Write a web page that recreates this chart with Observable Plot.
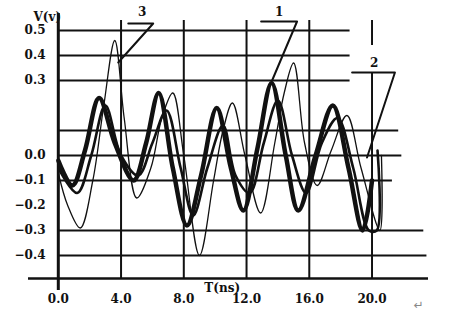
<!DOCTYPE html>
<html>
<head>
<meta charset="utf-8">
<script src="https://cdn.jsdelivr.net/npm/d3@7"></script>
<script src="https://cdn.jsdelivr.net/npm/@observablehq/plot@0.6"></script>
<style>
  html, body { margin: 0; padding: 0; background: #fff; }
  #chart { width: 450px; height: 320px; }
</style>
</head>
<body>
<div id="chart"></div>
<script>
// ---- data ----
const t1 = [0, 0.9, 1.7, 2.6, 3.6, 4.8, 5.6, 6.4, 7.3, 8.2, 9.1, 10.1, 11.0, 11.8, 12.7, 13.6, 14.5, 15.3, 16.4, 17.5, 18.5, 19.4, 20.0];
const v1 = [-0.02, -0.12, 0.02, 0.23, 0.05, -0.1, 0.05, 0.25, -0.05, -0.28, -0.08, 0.19, -0.05, -0.22, 0.03, 0.29, 0.0, -0.22, 0.0, 0.2, -0.05, -0.3, -0.1];

const t2 = [0, 1.2, 2.1, 3.0, 4.0, 5.1, 6.0, 6.9, 7.8, 8.6, 9.5, 10.5, 11.3, 12.2, 13.1, 14.0, 14.9, 15.8, 16.8, 17.8, 18.8, 19.8, 20.3, 20.35];
const v2 = [-0.05, -0.15, 0.0, 0.2, 0.0, -0.08, 0.05, 0.18, -0.05, -0.24, -0.05, 0.12, -0.08, -0.15, 0.05, 0.22, 0.0, -0.15, 0.05, 0.15, -0.05, -0.3, -0.3, 0.02];

const t3 = [0, 0.6, 1.4, 2.2, 2.9, 3.6, 4.2, 5.0, 5.9, 6.6, 7.3, 8.0, 9.0, 9.9, 10.5, 11.1, 11.9, 12.9, 13.8, 14.4, 15.0, 15.7, 16.5, 17.4, 18.4, 19.3, 20.5, 20.6];
const v3 = [-0.07, -0.2, -0.29, -0.1, 0.2, 0.46, 0.15, -0.17, -0.05, 0.15, 0.25, 0.0, -0.40, -0.1, 0.1, 0.21, 0.0, -0.23, 0.05, 0.25, 0.37, 0.05, -0.12, 0.02, 0.16, -0.05, -0.3, 0.0];

const xTicks = [0, 4, 8, 12, 16, 20];
const yTicks = [0.5, 0.4, 0.3, 0.0, -0.1, -0.2, -0.3, -0.4];
const hGrid = [0.5, 0.4, 0.3, 0.1, 0.0, -0.1, -0.3, -0.4];
const hGridEnd = [18.6, 18.6, 18.6, 21.7, 21.9, 21.3, 23.3, 23.5];
const vGrid = [4, 8, 12, 16];

// leader annotations (data units)
const leaderLabels = ["1", "2", "3"];
const leader1 = [{t: 12.93, v: 0.536}, {t: 15.22, v: 0.536}, {t: 13.63, v: 0.30}];
const leader2 = [{t: 18.73, v: 0.332}, {t: 21.46, v: 0.332}, {t: 19.68, v: -0.008}];
const leader3 = [{t: 4.46, v: 0.528}, {t: 6.05, v: 0.528}, {t: 3.82, v: 0.372}];
const labelPos = [{t: 14.08, v: 0.572}, {t: 20.13, v: 0.37}, {t: 5.35, v: 0.572}];

// ---- build ----
const s1 = t1.map((t, i) => ({t, v: v1[i]}));
const s2 = t2.map((t, i) => ({t, v: v2[i]}));
const s3 = t3.map((t, i) => ({t, v: v3[i]}));
const xMin = -1.9, xMax = 23.6, yMin = -0.492, yMax = 0.568;
const fmt = d => (d < 0 ? "\u2212" : "") + Math.abs(d).toFixed(1);
const ink = "#111";

const chart = Plot.plot({
  width: 450,
  height: 320,
  marginLeft: 28,
  marginRight: 22,
  marginTop: 13,
  marginBottom: 42,
  x: {domain: [xMin, xMax], axis: null},
  y: {domain: [yMin, yMax], axis: null},
  style: {background: "#fff", fontFamily: "DejaVu Serif", color: ink},
  marks: [
    // grid
    Plot.ruleY(hGrid, {y: d => d, x1: 0, x2: (d, i) => hGridEnd[i], stroke: ink, strokeWidth: 2}),
    Plot.ruleX(vGrid, {x: d => d, y1: 0.54, y2: yMin, stroke: ink, strokeWidth: 2}),
    Plot.ruleX([20], {x: d => d, y1: 0.54, y2: 0.44, stroke: ink, strokeWidth: 2}),
    Plot.ruleX([20], {x: d => d, y1: 0.332, y2: yMin, stroke: ink, strokeWidth: 2}),
    // axes lines
    Plot.ruleX([0], {x: d => d, y1: yMax, y2: -0.54, stroke: ink, strokeWidth: 3}),
    Plot.ruleY([yMin], {y: d => d, x1: xMin, x2: xMax, stroke: ink, strokeWidth: 2.5}),
    // curves
    Plot.line(s3, {x: "t", y: "v", stroke: ink, strokeWidth: 1.3, curve: "catmull-rom"}),
    Plot.line(s2, {x: "t", y: "v", stroke: ink, strokeWidth: 2.6, curve: "catmull-rom"}),
    Plot.line(s1, {x: "t", y: "v", stroke: ink, strokeWidth: 4.5, curve: "catmull-rom"}),
    // leaders
    Plot.line(leader1, {x: "t", y: "v", stroke: ink, strokeWidth: 2}),
    Plot.line(leader2, {x: "t", y: "v", stroke: ink, strokeWidth: 2}),
    Plot.line(leader3, {x: "t", y: "v", stroke: ink, strokeWidth: 2}),
    Plot.text(labelPos, {x: "t", y: "v", text: (d, i) => leaderLabels[i], fontSize: 12, fontWeight: "bold", fill: ink}),
    // tick labels
    Plot.text(xTicks, {x: d => d, frameAnchor: "bottom", dy: 24, text: fmt, fontSize: 12, fontWeight: "bold", fill: ink}),
    Plot.text(yTicks, {y: d => d, frameAnchor: "left", dx: 17, textAnchor: "end", text: fmt, fontSize: 12, fontWeight: "bold", fill: ink}),
    // axis titles
    Plot.text(["T(ns)"], {x: () => 10.45, frameAnchor: "bottom", dy: 13, text: d => d, fontSize: 12, fontWeight: "bold", fill: ink}),
    Plot.text(["V(v)"], {frameAnchor: "top-left", dx: 5, dy: 4, lineAnchor: "middle", text: d => d, fontSize: 12, fontWeight: "bold", fill: ink}),
    Plot.text(["\u21B5"], {frameAnchor: "bottom-right", dx: -5, dy: 30, text: d => d, fontSize: 12, fill: "#888", fontFamily: "DejaVu Sans"})
  ]
});
document.getElementById("chart").appendChild(chart);
</script>
</body>
</html>
